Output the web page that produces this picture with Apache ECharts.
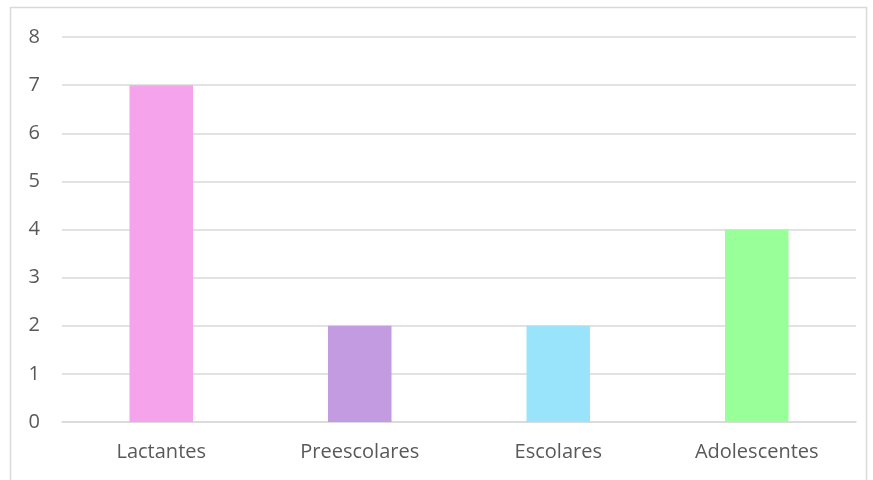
<!DOCTYPE html>
<html><head><meta charset="utf-8">
<script src="https://cdn.jsdelivr.net/npm/echarts@6/dist/echarts.min.js"></script>
<style>html,body{margin:0;padding:0;background:#fff}#c{width:873px;height:480px}</style>
</head><body><div id="c"></div>
<script>
const categories = ['Lactantes', 'Preescolares', 'Escolares', 'Adolescentes'];
const values = [7, 2, 2, 4];
const barColors = ['#F5A4EC', '#C39BE1', '#99E4FB', '#99FF99'];
const yTicks = [0, 1, 2, 3, 4, 5, 6, 7, 8];

const chart = echarts.init(document.getElementById('c'), null, {renderer: 'canvas'});
chart.setOption({
  animation: false,
  backgroundColor: '#fff',
  graphic: [{type: 'rect', shape: {x: 10.5, y: 7.5, width: 856, height: 490}, style: {fill: 'none', stroke: '#D9D9D9', lineWidth: 1.5}}],
  grid: {left: 62, right: 17, top: 37, bottom: 58, containLabel: false},
  xAxis: {
    type: 'category', data: categories,
    axisLine: {lineStyle: {color: '#D9D9D9', width: 1.5}},
    axisTick: {show: false},
    axisLabel: {color: '#595959', fontSize: 20, fontFamily: 'Open Sans', margin: 20}
  },
  yAxis: {
    type: 'value', min: yTicks[0], max: yTicks[yTicks.length - 1], interval: 1,
    axisLine: {show: false}, axisTick: {show: false},
    splitLine: {lineStyle: {color: '#D9D9D9', width: 1.5}},
    axisLabel: {color: '#595959', fontSize: 20, fontFamily: 'Open Sans', margin: 22}
  },
  series: [{
    type: 'bar', barWidth: '32%',
    data: values.map((v, i) => ({value: v, itemStyle: {color: barColors[i]}}))
  }]
});
</script></body></html>
